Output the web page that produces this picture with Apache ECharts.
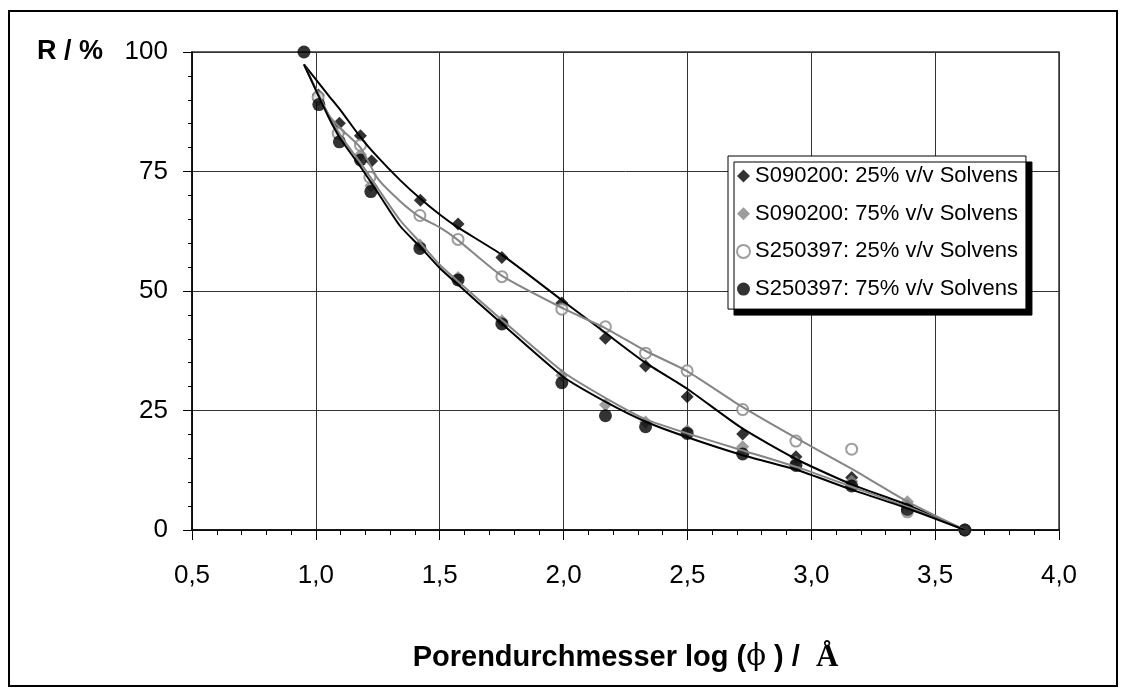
<!DOCTYPE html>
<html>
<head>
<meta charset="utf-8">
<script src="https://cdn.jsdelivr.net/npm/echarts@6/dist/echarts.min.js"></script>
<style>
  html, body { margin: 0; padding: 0; background: #fff; }
  #chart-container { width: 1126px; height: 695px; }
</style>
</head>
<body>
<div id="chart-container"></div>
<script>
// Messpunkte: log(Porendurchmesser) und R / %
var xS090200_25 = [1.01, 1.095, 1.18, 1.225, 1.422, 1.574, 1.751, 1.993, 2.169, 2.331, 2.499, 2.723, 2.938, 3.163, 3.388, 3.62];
var yS090200_25 = [91, 85.1, 82.5, 77.2, 69.0, 64.0, 57.0, 47.5, 40.1, 34.3, 27.9, 20.1, 15.3, 11.0, 5.0, 0];

var xS090200_75 = [1.01, 1.095, 1.18, 1.222, 1.42, 1.574, 1.751, 1.993, 2.169, 2.331, 2.499, 2.723, 2.938, 3.163, 3.388, 3.62];
var yS090200_75 = [90, 83, 78.5, 72, 59.6, 52.8, 43.8, 32.4, 26.2, 22.6, 20.8, 17.4, 14.2, 10.2, 5.9, 0];

var xS250397_25 = [1.009, 1.09, 1.18, 1.218, 1.42, 1.574, 1.751, 1.993, 2.169, 2.331, 2.499, 2.723, 2.938, 3.163, 3.388, 3.62];
var yS250397_25 = [90.6, 83.0, 80.5, 73.8, 65.8, 60.8, 53.0, 46.2, 42.5, 37.0, 33.3, 25.2, 18.6, 16.9, 3.8, 0];

var xS250397_75 = [0.952, 1.012, 1.095, 1.18, 1.222, 1.42, 1.574, 1.751, 1.993, 2.169, 2.331, 2.499, 2.723, 2.938, 3.163, 3.388, 3.62];
var yS250397_75 = [100, 89.0, 81.2, 77.4, 70.8, 58.9, 52.3, 43.1, 30.8, 23.9, 21.6, 20.2, 15.9, 13.5, 9.2, 4.3, 0];

// Trendlinien
var xTrend = [0.952, 1.05, 1.1, 1.18, 1.25, 1.34, 1.42, 1.5, 1.57, 1.75, 2.0, 2.17, 2.33, 2.5, 2.72, 2.94, 3.16, 3.39, 3.62];
var trendS090200_25 = [97.4, 91, 87.8, 82.2, 78, 73.2, 69.4, 66, 63.4, 57.6, 47.8, 41.2, 35, 29.5, 21.3, 14.8, 9.6, 5.2, 0];
var trendS090200_75 = [97.4, 87, 82.5, 76.8, 71.5, 64.8, 60.2, 55.5, 52.2, 44, 33, 27.6, 23.2, 20.2, 16.7, 13.2, 9.1, 4.8, 0];
var trendS250397_25 = [97.4, 87, 84, 80, 73.5, 68.8, 65.5, 63.3, 60.8, 53.2, 46.3, 42.2, 37.5, 33.2, 25.8, 19.2, 12.9, 5.9, 0];
var trendS250397_75 = [97.4, 86.5, 81.8, 76, 70.6, 63.6, 59.3, 54.8, 51.5, 43.2, 32, 26.8, 22.7, 19.4, 15.7, 12.6, 8.5, 4.5, 0];

var xTicks = { min: 0.5, max: 4.0, interval: 0.5 };
var yTicks = { min: 0, max: 100, interval: 25 };

var names = [
  "S090200: 25% v/v Solvens",
  "S090200: 75% v/v Solvens",
  "S250397: 25% v/v Solvens",
  "S250397: 75% v/v Solvens"
];

function pairs(xs, ys) {
  return xs.map(function (x, i) { return [x, ys[i]]; });
}

var FONT = "Liberation Sans, Arial, sans-serif";
var GRAY = "#858585";

var dom = document.getElementById("chart-container");
var myChart = echarts.init(dom, null, { renderer: "canvas" });

function trend(name, ys, color) {
  return {
    name: name,
    type: "line",
    smooth: 0.2,
    showSymbol: false,
    lineStyle: { color: color, width: 2 },
    data: pairs(xTrend, ys),
    z: 3
  };
}

var option = {
  backgroundColor: "#fff",
  animation: false,
  textStyle: { fontFamily: FONT, color: "#000" },
  title: {
    text: "R / %",
    left: 37,
    top: 38,
    padding: 0,
    textStyle: { fontFamily: FONT, fontSize: 27, fontWeight: "bold", color: "#000" }
  },
  graphic: [
    {
      type: "rect",
      shape: { x: 9, y: 11, width: 1108, height: 675 },
      style: { fill: "none", stroke: "#000", lineWidth: 2 },
      silent: true
    }
  ],
  legend: {
    data: names,
    orient: "vertical",
    left: 728,
    top: 156,
    padding: [8, 8, 8, 8],
    itemGap: 13.7,
    itemWidth: 13,
    itemHeight: 13,
    itemTextGap: 8,
    backgroundColor: "#fff",
    borderColor: "#000",
    borderWidth: 1,
    shadowColor: "#000",
    shadowBlur: 0,
    shadowOffsetX: 6,
    shadowOffsetY: 6,
    textStyle: { fontFamily: FONT, fontSize: 22, lineHeight: 24, color: "#000" }
  },
  grid: {
    left: 192,
    top: 52,
    right: 67,
    bottom: 165,
    show: true,
    borderColor: "#333",
    borderWidth: 1.5
  },
  xAxis: {
    type: "value",
    min: xTicks.min,
    max: xTicks.max,
    interval: xTicks.interval,
    name: "{a|Porendurchmesser log (}{p|ϕ}{a| ) /  }{b|Å}",
    nameLocation: "middle",
    nameGap: 112,
    nameTextStyle: {
      rich: {
        a: { fontFamily: FONT, fontSize: 29, fontWeight: "bold", color: "#000" },
        p: { fontFamily: "DejaVu Serif, serif", fontSize: 29, color: "#000" },
        b: { fontFamily: "Liberation Serif, Times New Roman, serif", fontSize: 31, fontWeight: "bold", color: "#000" }
      }
    },
    axisLine: { show: true, lineStyle: { color: "#000", width: 1.5 } },
    axisTick: { show: true, length: 10, lineStyle: { color: "#000" } },
    minorTick: { show: true, splitNumber: 5, length: 5, lineStyle: { color: "#000" } },
    splitLine: { show: true, lineStyle: { color: "#333", width: 1 } },
    axisLabel: {
      margin: 33,
      fontFamily: FONT,
      fontSize: 26,
      color: "#000",
      formatter: function (v) { return v.toFixed(1).replace(".", ","); }
    }
  },
  yAxis: {
    type: "value",
    min: yTicks.min,
    max: yTicks.max,
    interval: yTicks.interval,
    axisLine: { show: true, lineStyle: { color: "#000", width: 1.5 } },
    axisTick: { show: true, length: 9, lineStyle: { color: "#000" } },
    minorTick: { show: true, splitNumber: 5, length: 4, lineStyle: { color: "#000" } },
    splitLine: { show: true, lineStyle: { color: "#333", width: 1 } },
    axisLabel: { margin: 24, fontFamily: FONT, fontSize: 26, color: "#000" }
  },
  series: [
    {
      name: names[0],
      type: "scatter",
      symbol: "diamond",
      symbolSize: 13,
      itemStyle: { color: "#000" },
      data: pairs(xS090200_25, yS090200_25),
      z: 2
    },
    {
      name: names[1],
      type: "scatter",
      symbol: "diamond",
      symbolSize: 13,
      itemStyle: { color: GRAY },
      data: pairs(xS090200_75, yS090200_75),
      z: 2
    },
    {
      name: names[2],
      type: "scatter",
      symbol: "circle",
      symbolSize: 11,
      itemStyle: { color: "#fff", borderColor: GRAY, borderWidth: 2 },
      data: pairs(xS250397_25, yS250397_25),
      z: 2
    },
    {
      name: names[3],
      type: "scatter",
      symbol: "circle",
      symbolSize: 13,
      itemStyle: { color: "#000" },
      data: pairs(xS250397_75, yS250397_75),
      z: 2
    },
    trend("trend1", trendS090200_25, "#000"),
    trend("trend2", trendS090200_75, GRAY),
    trend("trend3", trendS250397_25, GRAY),
    trend("trend4", trendS250397_75, "#000")
  ]
};

myChart.setOption(option);
window.addEventListener("resize", myChart.resize);
</script>
</body>
</html>
